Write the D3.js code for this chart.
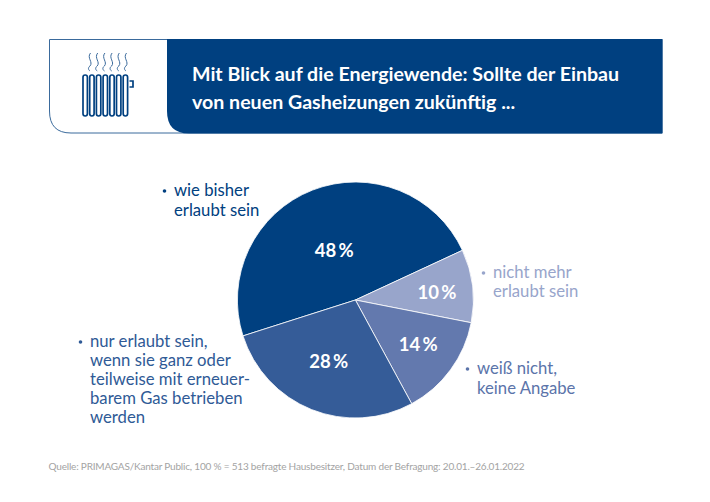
<!DOCTYPE html>
<html>
<head>
<meta charset="utf-8">
<script src="https://cdn.jsdelivr.net/npm/d3@7"></script>
<style>
html, body { margin: 0; padding: 0; background: #fff; }
svg { display: block; }
text { font-family: Lato, "Open Sans", sans-serif; }
</style>
</head>
<body>
<svg id="chart" width="710" height="502"></svg>
<script>
const categories = ['wie bisher erlaubt sein', 'nicht mehr erlaubt sein', 'weiß nicht, keine Angabe', 'nur erlaubt sein, wenn sie ganz oder teilweise mit erneuerbarem Gas betrieben werden']
const values = [48, 10, 14, 28]
const colors = ['#004080', '#98a5cb', '#6379ae', '#355c98']
const titleLines = ['Mit Blick auf die Energiewende: Sollte der Einbau', 'von neuen Gasheizungen zukünftig ...']
const labelLines = [
	['wie bisher', 'erlaubt sein'],
	['nicht mehr', 'erlaubt sein'],
	['weiß nicht,', 'keine Angabe'],
	['nur erlaubt sein,', 'wenn sie ganz oder', 'teilweise mit erneuer-', 'barem Gas betrieben', 'werden']
]
const source = 'Quelle: PRIMAGAS/Kantar Public, 100 % = 513 befragte Hausbesitzer, Datum der Befragung: 20.01.–26.01.2022'

const navy = '#004080'
var svg = d3.select('#chart')

// header box
svg.append('path')
	.attr('d', 'M49.5,39.5 H662 V133 H71 Q49.5,133 49.5,111 Z')
	.attr('fill', '#fff')
	.attr('stroke', '#3a6a9c')
	.attr('stroke-width', 1)
svg.append('path')
	.attr('d', 'M167,39 H662.5 V133.5 H189 Q167,133.5 167,111 Z')
	.attr('fill', navy)

svg.selectAll('.title').data(titleLines).join('text')
	.attr('class', 'title')
	.attr('x', 192)
	.attr('y', (d, i) => 81 + i * 28)
	.attr('fill', '#fff')
	.attr('font-size', 19.6)
	.attr('font-weight', 700)
	.text(d => d)

// radiator icon
var icon = svg.append('g')
	.attr('fill', 'none')
	.attr('stroke', navy)
	.attr('stroke-width', 1.7)
d3.range(7).forEach(i => {
	icon.append('rect')
		.attr('x', 83 + i * 6.7)
		.attr('y', 75)
		.attr('width', 4.4)
		.attr('height', 41)
		.attr('rx', 2.2)
})
icon.append('path').attr('d', 'M129.5,81 H133 V87 H129.5')
d3.range(6).forEach(i => {
	var x = 90.5 + i * 7.2
	icon.append('path')
		.attr('stroke', '#3a6a9c')
		.attr('stroke-width', 1)
		.attr('d', `M${x},53 C${x - 4},58 ${x + 3},62 ${x - 0.5},66 C${x - 3},68 ${x - 2},70 ${x - 0.5},71`)
})

// pie
const cx = 355.4, cy = 300, radius = 118
var startDeg = -107.7
var pie = d3.pie().sort(null)
	.startAngle(startDeg * Math.PI / 180)
	.endAngle((startDeg + 360) * Math.PI / 180)
var arc = d3.arc().innerRadius(0).outerRadius(radius)
var g = svg.append('g').attr('transform', `translate(${cx},${cy})`)
var arcs = pie(values)

g.selectAll('path').data(arcs).join('path')
	.attr('d', arc)
	.attr('fill', (d, i) => colors[i])
	.attr('stroke', '#fff')
	.attr('stroke-width', 0.8)

// value labels sit at different radii and angles in the original
const labelRadius = [54, 82, 77, 67]
const labelTurn = [-1.8, 1.7, -0.9, 1.5]
g.selectAll('.val').data(arcs).join('text')
	.attr('class', 'val')
	.attr('transform', (d, i) => {
		var a = (d.startAngle + d.endAngle) / 2 + labelTurn[i] * Math.PI / 180
		return `translate(${Math.sin(a) * labelRadius[i]},${-Math.cos(a) * labelRadius[i]})`
	})
	.attr('text-anchor', 'middle')
	.attr('dy', '0.36em')
	.attr('fill', '#fff')
	.attr('font-size', 18.5)
	.attr('font-weight', 700)
	.text(d => d.value + '\u2009%')

// outside labels
const labelX = [174, 493, 477, 90]
const labelY = [196, 278, 374, 347]
const labelGap = [20, 19, 20, 19]
const labelColor = [navy, '#98a5cb', '#5b74aa', '#2f5a96']
labelLines.forEach((lines, k) => {
	svg.append('circle')
		.attr('cx', labelX[k] - 9.5)
		.attr('cy', labelY[k] - 5)
		.attr('r', 1.8)
		.attr('fill', labelColor[k])
	svg.selectAll('.lab' + k).data(lines).join('text')
		.attr('class', 'lab' + k)
		.attr('x', labelX[k])
		.attr('y', (d, i) => labelY[k] + i * labelGap[k])
		.attr('fill', labelColor[k])
		.attr('font-size', 16.7)
		.text(d => d)
})

svg.append('text')
	.attr('x', 48.5)
	.attr('y', 470)
	.attr('fill', '#a3a3a3')
	.attr('font-size', 10)
	.attr('letter-spacing', -0.19)
	.text(source)
</script>
</body>
</html>
